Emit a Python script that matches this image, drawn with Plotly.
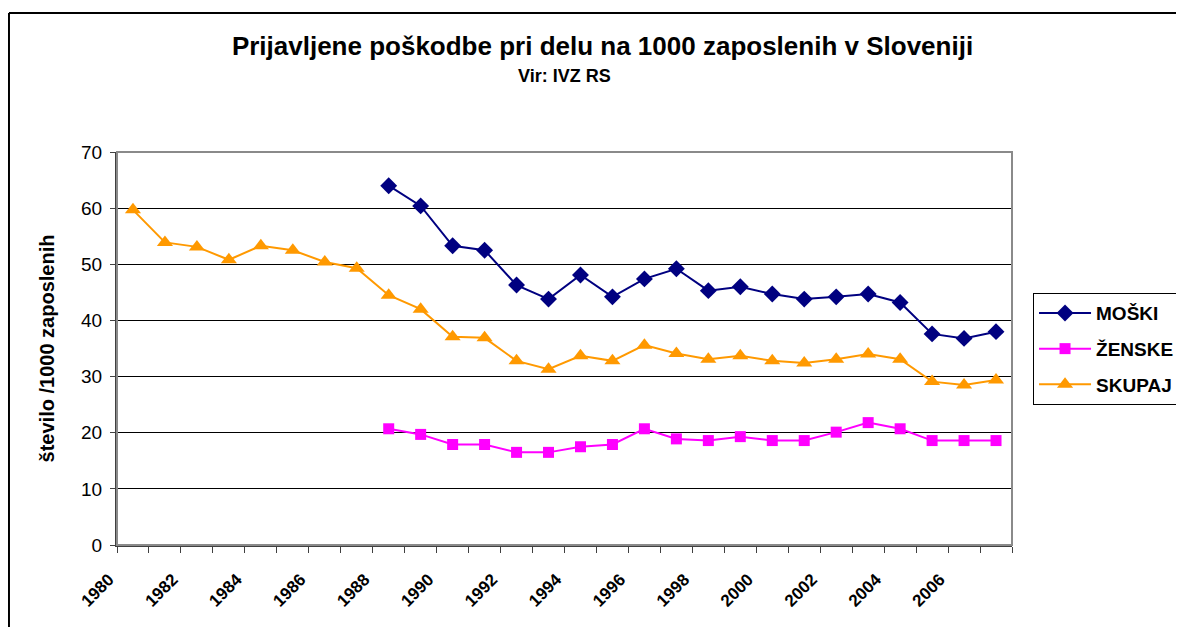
import plotly.graph_objects as go

years = list(range(1980, 2008))

# values per 1000 employees (None = no data)
moski = [None] * 8 + [64.0, 60.4, 53.3, 52.5, 46.3, 43.8, 48.1, 44.2, 47.4, 49.2,
                      45.3, 46.0, 44.7, 43.8, 44.2, 44.7, 43.2, 37.6, 36.8, 38.0]
zenske = [None] * 8 + [20.7, 19.7, 17.9, 17.9, 16.5, 16.5, 17.5, 17.9, 20.7, 18.9,
                       18.6, 19.3, 18.6, 18.6, 20.1, 21.8, 20.7, 18.6, 18.6, 18.6]
skupaj = [59.7, 53.9, 53.1, 50.8, 53.3, 52.5, 50.4, 49.3, 44.5, 42.0, 37.1, 36.9,
          32.8, 31.3, 33.7, 32.8, 35.6, 34.1, 33.1, 33.7, 32.8, 32.4, 33.1, 34.0,
          33.1, 29.1, 28.5, 29.4]

label_years = years[::2]
boundaries = [y - 0.5 for y in years] + [years[-1] + 0.5]

font = "Liberation Sans, Arial, sans-serif"

fig = go.Figure()
fig.add_trace(go.Scatter(x=years, y=moski, name="MOŠKI", mode="lines+markers",
                         legendgroup="m",
                         line=dict(color="#000080", width=2),
                         marker=dict(symbol="diamond", size=13, color="#000080")))
fig.add_trace(go.Scatter(x=years, y=zenske, name="ŽENSKE", mode="lines+markers",
                         legendgroup="z",
                         line=dict(color="#FF00FF", width=2),
                         marker=dict(symbol="square", size=11, color="#FF00FF")))
fig.add_trace(go.Scatter(x=years, y=skupaj, name="SKUPAJ", mode="lines+markers",
                         legendgroup="s",
                         line=dict(color="#FF9900", width=2),
                         marker=dict(symbol="triangle-up", size=14, color="#FF9900")))

# page body has an 8px margin, so the figure is 16px smaller than the window
fig.update_layout(
    width=1168, height=619,
    margin=dict(l=109, r=164, t=144, b=82, autoexpand=False),
    paper_bgcolor="white", plot_bgcolor="white",
    font=dict(family=font, color="black"),
    title=dict(text="<b>Prijavljene poškodbe pri delu na 1000 zaposlenih v Sloveniji</b>",
               x=0.509, xanchor="center", yref="container", y=0.9386, yanchor="middle",
               font=dict(size=26, family=font)),
    annotations=[dict(text="<b>Vir: IVZ RS</b>", xref="paper", yref="paper",
                      x=0.5, y=1.1934, xanchor="center", yanchor="middle",
                      showarrow=False, font=dict(size=18, family=font))],
    xaxis=dict(range=[years[0] - 0.5, years[-1] + 0.5],
               tickmode="array", tickvals=label_years,
               ticktext=[str(y) for y in label_years],
               tickangle=-45, ticks="", ticklabelstandoff=16, ticklabelshift=-24,
               tickfont=dict(size=17, family=font, weight="bold"),
               showgrid=False, zeroline=False,
               showline=True, linecolor="#404040", linewidth=2,
               minor=dict(tickmode="array", tickvals=boundaries, ticks="outside",
                          ticklen=6, tickwidth=1, tickcolor="#404040", showgrid=False)),
    yaxis=dict(range=[0, 70], dtick=10, ticks="outside", ticklen=5,
               tickcolor="#404040", ticklabelstandoff=4,
               tickfont=dict(size=19, family=font),
               showgrid=True, gridcolor="black", gridwidth=1, zeroline=False,
               showline=True, linecolor="#404040", linewidth=2,
               title=dict(text="<b>število /1000 zaposlenih</b>", standoff=21,
                          font=dict(size=20, family=font))),
    legend=dict(x=1.0235, y=0.641, xanchor="left", yanchor="top",
                bordercolor="black", borderwidth=1, bgcolor="white",
                font=dict(size=19, family=font, weight="bold"),
                itemwidth=52, tracegroupgap=8),
    shapes=[
        dict(type="rect", xref="paper", yref="paper", x0=0, x1=1, y0=0, y1=1,
             line=dict(color="#8a8a8a", width=2), layer="above"),
        # outer chart frame (only the left and top edges fall inside the picture)
        dict(type="line", xref="paper", yref="paper", x0=-0.1207, x1=1.3,
             y0=1.3537, y1=1.3537, line=dict(color="black", width=2)),
        dict(type="line", xref="paper", yref="paper", x0=-0.1207, x1=-0.1207,
             y0=-0.3, y1=1.3537, line=dict(color="black", width=2)),
    ],
)

fig.write_html("out.html")
